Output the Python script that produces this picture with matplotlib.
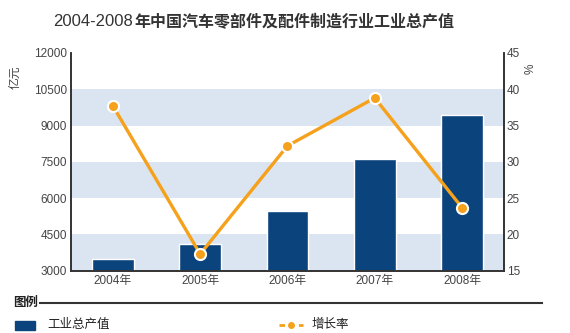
import matplotlib.pyplot as plt
from matplotlib.lines import Line2D
from matplotlib.patches import Rectangle

plt.rcParams['font.family'] = ['Liberation Sans', 'Noto Sans CJK SC']

years = ['2004年', '2005年', '2006年', '2007年', '2008年']
output_value = [3500, 4120, 5450, 7600, 9450]   # 亿元
growth_rate = [37.7, 17.3, 32.2, 38.8, 23.7]    # %
left_ticks = [3000, 4500, 6000, 7500, 9000, 10500, 12000]
right_ticks = [15, 20, 25, 30, 35, 40, 45]

BAR_COLOR = '#0b437c'
BAND_COLOR = '#dbe5f1'
LINE_COLOR = '#f5a11c'
AXIS_COLOR = '#333333'
TEXT_COLOR = '#444444'


def draw():
    fig = plt.figure(figsize=(5.7, 3.33), dpi=100)
    ax = fig.add_axes([0.1246, 0.187, 0.7594, 0.654])
    x = list(range(len(years)))

    # alternating bands
    for lo in left_ticks[:-1:2]:
        ax.axhspan(lo, lo + 1500, color=BAND_COLOR, lw=0, zorder=0)

    ax.bar(x, [v - 3000 for v in output_value], bottom=3000, width=0.48,
           color=BAR_COLOR, edgecolor='white', linewidth=1.0, zorder=2)
    ax.set_xlim(-0.48, 4.48)
    ax.set_ylim(3000, 12000)
    ax.set_yticks(left_ticks)
    ax.set_xticks(x)
    ax.set_xticklabels(years)

    ax2 = ax.twinx()
    ax2.plot(x, growth_rate, color=LINE_COLOR, lw=2.4, marker='o', ms=8,
             markerfacecolor=LINE_COLOR, markeredgecolor='white',
             markeredgewidth=1.5, zorder=3)
    ax2.set_ylim(15, 45)
    ax2.set_yticks(right_ticks)

    for a in (ax, ax2):
        a.spines['top'].set_visible(False)
        for s in ('left', 'right', 'bottom'):
            a.spines[s].set_color(AXIS_COLOR)
            a.spines[s].set_linewidth(1.2)
        a.tick_params(length=0, colors=TEXT_COLOR, labelsize=8.5)
    ax.tick_params(axis='y', pad=3)
    ax.tick_params(axis='x', pad=3)
    ax2.tick_params(axis='y', pad=2)

    # title: digits regular, chinese part bold
    ty = 1 - 22 / 333
    fig.text(133 / 570, ty, '2004-2008', ha='right', va='center',
             fontsize=12, color='#333333')
    fig.text(134 / 570, ty, '年中国汽车零部件及配件制造行业工业总产值',
             ha='left', va='center', fontsize=11.5, fontweight='bold',
             color='#333333')
    fig.text(15 / 570, 1 - 77 / 333, '亿元', rotation=90, ha='center',
             va='center', fontsize=8.5, color=TEXT_COLOR)
    fig.text(531 / 570, 1 - 69 / 333, '%', rotation=90, ha='center',
             va='center', fontsize=8.5, color=TEXT_COLOR)

    # legend area
    fig.text(13 / 570, 1 - 303 / 333, '图例', ha='left', va='center',
             fontsize=9, fontweight='bold', color='#222222')
    fig.add_artist(Line2D([40 / 570, 542 / 570], [1 - 303 / 333] * 2,
                          color=AXIS_COLOR, lw=1.5))
    fig.add_artist(Rectangle((15 / 570, 1 - 330 / 333), 20 / 570, 9 / 333,
                             color=BAR_COLOR, transform=fig.transFigure))
    fig.text(47 / 570, 1 - 325 / 333, '工业总产值', ha='left', va='center',
             fontsize=9, color='#222222')
    fig.add_artist(Line2D([279 / 570, 303 / 570], [1 - 325 / 333] * 2,
                          color=LINE_COLOR, lw=2, ls=(0, (2, 1.5))))
    fig.add_artist(Line2D([291 / 570], [1 - 325 / 333], marker='o', ms=6,
                          color=LINE_COLOR, markeredgecolor='white',
                          markeredgewidth=1))
    fig.text(312 / 570, 1 - 325 / 333, '增长率', ha='left', va='center',
             fontsize=9, color='#222222')

    fig.savefig('out.png', dpi=100)


def main():
    draw()


if __name__ == '__main__':
    main()
